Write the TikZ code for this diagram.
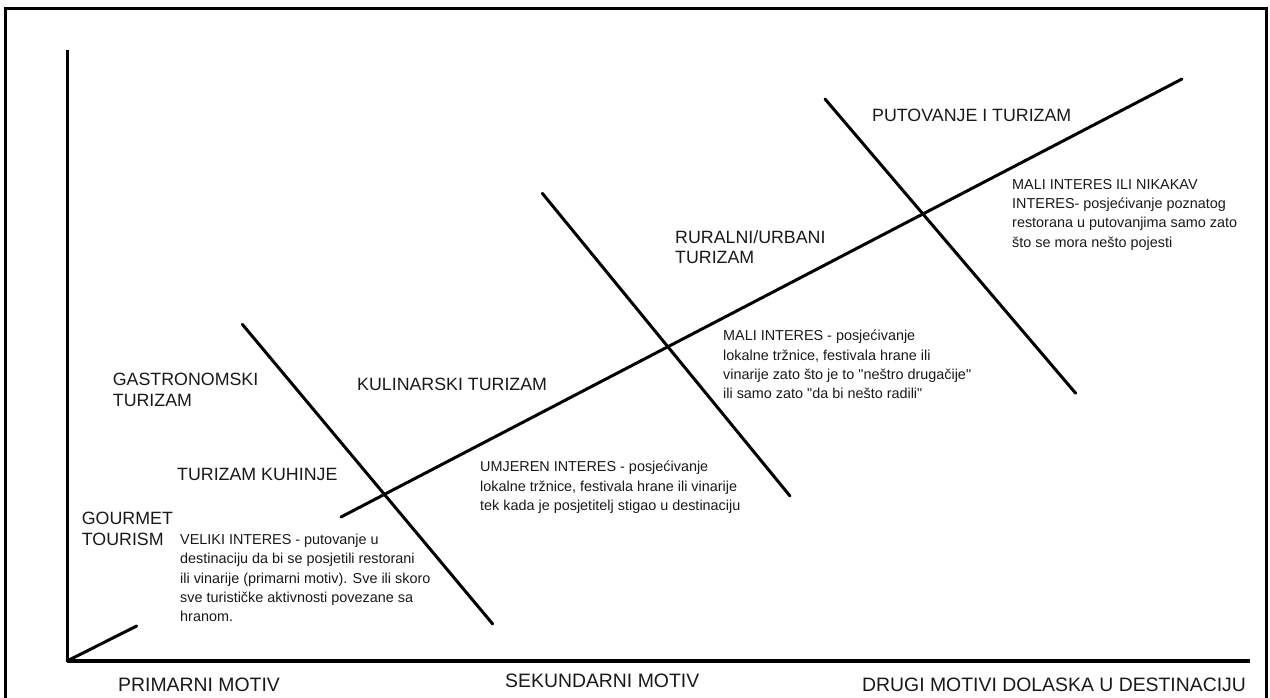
\documentclass[tikz,border=0pt]{standalone}
\usepackage{fontspec}
\setmainfont{Liberation Sans}[Ligatures=TeXOff]
\begin{document}
\begin{tikzpicture}[x=1pt,y=-1pt,
  big/.style={anchor=north west,inner sep=0pt,align=left,text=black!90,font=\fontsize{17.8}{20.5}\selectfont},
  small/.style={anchor=north west,inner sep=0pt,align=left,text=black!90,font=\fontsize{14.4}{19.3}\selectfont},
  axlab/.style={anchor=north west,inner sep=0pt,text=black!90,font=\fontsize{19.4}{22}\selectfont},
  ln/.style={line width=3pt,line cap=round},
  frame/.style={line width=3pt}]
\useasboundingbox (0,0) rectangle (1270,697);
% frame (open at bottom)
\draw[frame] (5,700) -- (5,8) -- (1266,8) -- (1266,700);
% axes
\coordinate (O) at (67,661);
\coordinate (Ytop) at (67,50);
\coordinate (Xend) at (1250,661);
\draw[line width=3pt] (O) -- (Ytop);
\draw[line width=4.5pt] (O) -- (Xend);
% main diagonal (interrupted behind text)
\coordinate (D1) at (136.7,626);
\coordinate (D2) at (341,517);
\coordinate (D3) at (1182,79);
\draw[ln] (O) -- (D1);
\draw[ln] (D2) -- (D3);
% crossing lines
\coordinate (A1) at (242.3,324.3); \coordinate (A2) at (492.7,624);
\coordinate (B1) at (542.3,193.3); \coordinate (B2) at (790,496);
\coordinate (C1) at (825,99);    \coordinate (C2) at (1075.7,393.3);
\draw[ln] (A1) -- (A2);
\draw[ln] (B1) -- (B2);
\draw[ln] (C1) -- (C2);
% labels
\node[big] (putovanje) at (872,109) {PUTOVANJE I TURIZAM};
\node[small] (mali2) at (1012,179) {MALI INTERES ILI NIKAKAV\\INTERES- posjećivanje poznatog\\restorana u putovanjima samo zato\\što se mora nešto pojesti};
\node[big] (ruralni) at (675,230) {RURALNI/URBANI\\TURIZAM};
\node[small] (mali1) at (723,330) {MALI INTERES - posjećivanje\\lokalne tržnice, festivala hrane ili\\vinarije zato što je to "neštro drugačije"\\ili samo zato "da bi nešto radili"};
\node[big] (kulinarski) at (357,378) {KULINARSKI TURIZAM};
\node[big] (gastro) at (112.7,373) {GASTRONOMSKI\\TURIZAM};
\node[big] (kuhinje) at (177,468) {TURIZAM KUHINJE};
\node[big] (gourmet) at (81.7,512) {GOURMET\\TOURISM};
\node[small] (veliki) at (180,534) {VELIKI INTERES - putovanje u\\destinaciju da bi se posjetili restorani\\ili vinarije (primarni motiv). Sve ili skoro\\sve turističke aktivnosti povezane sa\\hranom.};
\node[small] (umjeren) at (480,461) {UMJEREN INTERES - posjećivanje\\lokalne tržnice, festivala hrane ili vinarije\\tek kada je posjetitelj stigao u destinaciju};
\node[axlab] (primarni) at (118,678) {PRIMARNI MOTIV};
\node[axlab] (sekundarni) at (505,674) {SEKUNDARNI MOTIV};
\node[axlab] (drugi) at (862,678) {DRUGI MOTIVI DOLASKA U DESTINACIJU};
\end{tikzpicture}
\end{document}
